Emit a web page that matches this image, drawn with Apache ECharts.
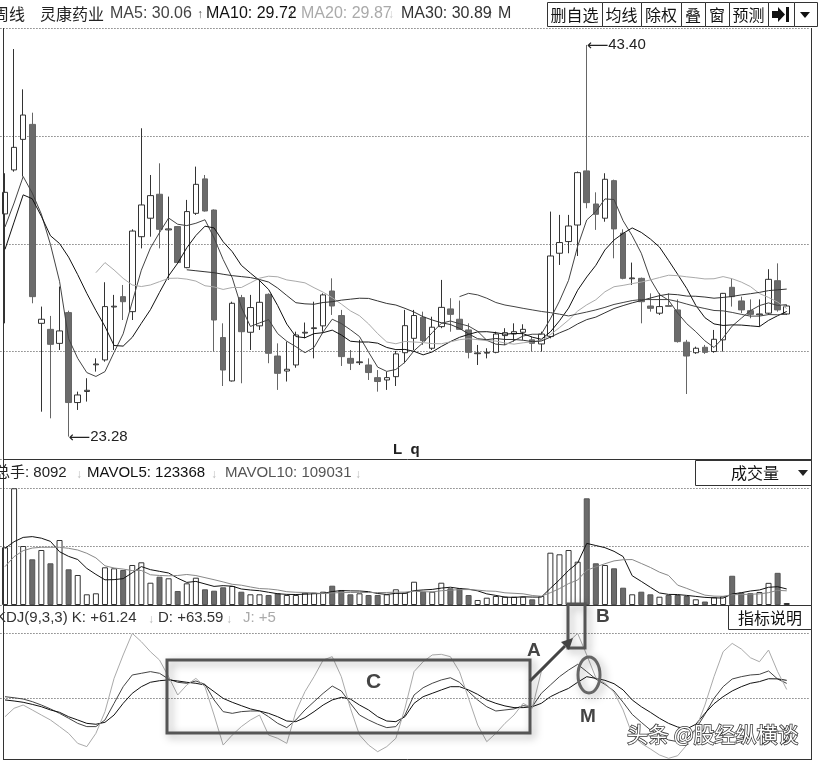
<!DOCTYPE html>
<html><head><meta charset="utf-8">
<script src="https://cdn.jsdelivr.net/npm/echarts@6/dist/echarts.min.js"></script>
<style>html,body{margin:0;padding:0;background:#fff}#c{width:818px;height:764px}</style>
</head><body><div id="c"></div>
<script>
// ---- weekly candles (灵康药业 周线) ----
const weeks = Array.from({length: 87}, (_, i) => 'W' + (i + 1));
const open = [34.72,36.98,38.55,39.32,29.10,28.79,28.07,29.65,25.03,25.60,
26.97,27.22,29.94,30.47,29.70,33.55,34.50,35.73,33.90,34.07,
31.96,34.75,36.52,34.92,28.37,26.14,30.42,28.64,28.97,30.59,
27.42,26.65,26.96,28.60,28.83,28.97,30.76,29.50,27.30,27.08,
26.96,26.31,26.19,26.36,27.59,28.33,29.41,27.82,28.93,29.84,
29.31,28.76,27.54,27.57,27.61,28.47,28.55,28.64,28.25,28.04,
28.42,32.70,33.30,34.15,36.93,35.23,34.50,36.43,33.73,31.39,
31.41,29.99,29.62,30.01,29.79,28.13,27.59,27.87,27.65,28.25,
30.95,30.25,29.75,29.54,29.62,31.29,29.58];
const close = [35.83,38.14,39.80,30.47,29.31,28.02,28.71,25.03,25.42,25.66,
27.01,29.96,29.98,30.21,33.84,35.18,35.66,33.93,33.95,32.22,
34.84,36.24,34.87,29.27,26.70,30.13,28.67,29.91,30.18,27.56,
26.53,26.74,28.50,28.64,28.87,30.56,29.99,27.39,27.05,27.12,
26.57,26.11,26.31,27.53,28.98,29.50,28.21,28.90,29.92,29.56,
28.79,27.61,27.58,27.61,28.55,28.62,28.67,28.79,28.07,28.55,
32.56,33.25,34.10,36.84,35.30,34.70,36.50,33.95,31.41,31.43,
30.21,29.87,29.96,29.97,28.16,27.42,27.82,27.61,28.28,30.64,
30.47,29.79,29.56,29.58,31.36,29.79,29.99];
const low = [29.10,36.89,36.64,30.13,24.56,24.22,27.73,23.28,24.65,25.08,
26.62,27.13,27.73,29.27,29.27,32.95,33.55,32.95,31.33,32.18,
31.93,34.67,34.84,27.65,25.88,26.11,26.02,27.73,28.76,27.05,
25.68,26.11,26.82,28.33,27.30,28.67,29.53,26.91,26.70,26.96,
26.19,25.59,25.68,25.88,27.05,27.73,27.99,27.73,28.85,28.67,
28.76,27.30,26.96,27.30,27.56,27.99,28.16,28.25,27.65,27.65,
28.33,32.10,32.70,32.56,35.01,33.90,34.32,32.44,31.36,31.07,
29.10,29.70,29.53,29.96,28.11,25.47,27.53,27.53,27.59,27.65,
29.96,29.62,29.36,28.93,29.53,29.70,29.53];
const high = [36.81,43.19,41.12,39.92,29.96,29.48,30.99,29.75,25.59,26.28,
27.30,31.21,30.56,31.07,33.93,39.12,36.72,37.32,35.61,34.10,
35.44,37.15,36.72,34.95,29.10,30.21,30.56,30.56,31.33,30.64,
28.07,28.16,28.67,29.14,30.21,30.64,31.41,29.79,27.73,28.25,
27.30,26.70,26.62,27.68,29.79,29.79,29.70,29.44,31.33,30.39,
30.27,29.10,27.99,27.82,28.67,28.85,29.10,29.05,28.42,28.67,
34.84,34.67,34.67,36.90,43.40,35.83,36.81,36.48,33.93,32.22,
31.45,30.64,30.64,30.64,30.33,28.25,27.90,27.99,28.76,30.66,
31.41,30.47,30.33,30.33,31.88,32.18,30.04];
const volume = [444000,898000,453800,351500,423000,320800,500000,274600,230800,82300,
90000,290000,282300,269200,307700,328400,171500,217700,205400,107700,
166900,210000,120800,110000,136200,146200,102300,82300,82300,76900,
90000,76900,76900,94600,94600,102300,148500,115400,82300,90000,
76900,76900,82300,120800,94600,179200,102300,102300,171500,128500,
128500,76900,38500,56200,69200,63800,63800,63800,43800,69200,
402300,390000,423000,333100,820700,320800,307700,282300,133100,82300,
102300,82300,63800,76900,76900,69200,43800,26800,59300,67400,
225000,94970,91200,99700,170400,247448,8092];
// KDJ(9,3,3)
const kLine = [51.0,50.2,49.2,47.2,44.6,41.6,38.2,34.4,30.5,28.0,
28.0,33.1,45.9,58.7,67.7,69.0,70.3,69.0,64.6,62.1,
61.3,63.1,60.5,48.5,39.5,38.2,39.5,40.0,40.0,35.6,
30.5,27.2,33.1,40.8,47.2,53.6,59.2,55.4,45.9,36.9,
33.1,29.8,27.2,28.0,36.9,52.3,57.9,61.3,63.9,65.6,
62.1,54.9,48.5,43.3,40.0,40.8,41.6,44.1,43.3,53.6,
60.0,66.4,71.5,75.9,70.3,64.6,60.5,55.4,46.7,37.4,
31.3,25.4,21.5,17.7,16.4,19.0,26.2,37.4,49.7,58.7,
64.6,66.4,67.7,68.2,70.8,64.6,61.24];
const dLine = [48.5,47.7,46.7,45.1,43.3,40.8,39.0,35.6,33.1,30.5,
29.8,31.3,36.9,45.9,53.6,58.7,62.1,63.3,63.9,63.1,
62.1,61.3,60.0,54.9,49.7,46.7,44.1,41.6,40.0,38.2,
35.6,32.3,31.8,34.9,39.5,44.6,48.5,50.5,49.2,44.6,
40.8,35.6,32.3,31.8,35.6,45.9,51.0,53.6,56.2,58.7,
58.7,56.2,52.8,48.5,45.9,43.9,42.6,42.6,43.3,45.9,
51.0,54.4,57.4,62.1,66.4,65.1,63.6,61.0,56.2,48.5,
43.3,39.0,34.4,30.5,27.7,26.2,29.8,38.2,45.6,51.0,
55.4,58.7,61.3,62.6,64.8,64.7,63.59];
const jLine = [35.6,42.1,44.6,40.8,36.9,33.1,28.0,22.8,15.1,12.6,
22.8,39.5,65.1,83.1,99.7,93.3,85.6,79.2,66.4,52.3,
60.0,65.1,58.7,36.9,13.8,21.5,28.0,33.1,36.9,21.5,
19.0,15.1,39.5,54.9,66.4,79.2,81.8,66.4,42.1,21.5,
13.8,8.7,12.6,19.0,42.1,70.3,77.9,83.1,83.6,81.8,
70.3,49.7,29.2,16.4,22.8,30.5,36.9,45.9,42.1,70.3,
77.9,85.6,93.3,99.7,83.1,65.6,61.3,54.4,40.8,22.0,
15.1,10.8,6.2,3.6,5.6,13.8,26.2,44.6,66.4,85.6,
92.0,87.7,81.0,77.9,86.9,70.3,56.54];
const ma5Head = [34.05,35.28,36.64,35.79];
const ma10Head = [32.9,34.3,35.7,35.5,34.6,33.6,33.2,32.5,31.6];
const ma20Head = Array(10).fill(null).concat([31.70,32.22,31.84,31.41,31.07,30.99,31.07,31.24,31.41]);
const ma30Head = Array(20).fill(null).concat([31.85,31.80,31.75,31.70,31.62,31.55,31.50,31.45,31.35]);
const ma60Head = Array(50).fill(null).concat([30.47,30.64,30.56,30.39,30.17,30.04,29.96,29.87,29.79]);
const mavol5Head = [436000,487000,520000,526000];
const mavol10Head = [295000,372000,418000,438000,444000,444000,444000,436000,423000];
const priceTicks = {min: 22.12, max: 44.24, step: 5.53};
const volTicks = {min: 0, max: 900000, step: 450000};
const kdjTicks = {min: 0, max: 120, step: 50};

function movingAvg(src, n, head, digits) {
  return src.map((_, i) => {
    if (i < n - 1) { const h = head[i]; return h == null ? '-' : h; }
    let s = 0; for (let k = i - n + 1; k <= i; k++) s += src[k];
    return +(s / n).toFixed(digits);
  });
}
const axisSlots = weeks.concat([' ', '  ']);
const candleData = open.map((o, i) => [o, close[i], low[i], high[i]]);
const volData = volume.map((v, i) => ({
  value: v,
  itemStyle: close[i] >= open[i] ? {color: '#fff', borderColor: '#333', borderWidth: 1}
                                  : {color: '#6b6b6b', borderColor: '#555', borderWidth: 1}
}));

const chart = echarts.init(document.getElementById('c'));
const FONT = '"Liberation Sans", Arial, "Noto Sans CJK SC", sans-serif';
const CJK = '"Noto Sans CJK SC", "Liberation Sans", sans-serif';
const hidden = {axisLine: {show: false}, axisTick: {show: false}, axisLabel: {show: false}};
const dotted = {color: '#444', type: [1, 2], width: 1};
const lineS = (name, data, color, xi) => ({
  name, type: 'line', data, xAxisIndex: xi, yAxisIndex: xi, showSymbol: false, symbol: 'none',
  lineStyle: {color, width: 1}, itemStyle: {color}, silent: true, z: 3
});

function T(text, x, y, o) {
  o = o || {};
  return {type: 'text', z: 100, silent: true, style: Object.assign({
    text, x, y, font: (o.size || 15) + 'px ' + (o.family || FONT), fill: o.color || '#222',
    textVerticalAlign: 'middle', verticalAlign: 'middle', textAlign: o.align || 'left', align: o.align || 'left'
  }, o.extra || {})};
}
function R(x, y, w, h, stroke, lw, extra) {
  return {type: 'rect', z: 99, silent: true, shape: {x, y, width: w, height: h},
    style: Object.assign({fill: '#fff', stroke, lineWidth: lw}, extra || {})};
}
function L(x1, y1, x2, y2, color, lw) {
  return {type: 'line', z: 98, silent: true, shape: {x1, y1, x2, y2}, style: {stroke: color, lineWidth: lw || 1}};
}

const graphics = [];
// header
graphics.push(T('周线', -7, 14, {size: 16, family: CJK}));
graphics.push(T('灵康药业', 40, 14, {size: 16, family: CJK}));
graphics.push(T('MA5: 30.06', 110, 14, {size: 16, color: '#444'}));
graphics.push(T('↑', 197, 15, {size: 12, color: '#555'}));
graphics.push(T('MA10: 29.72', 206, 14, {size: 16, color: '#111'}));
graphics.push(T('↑', 288, 15, {size: 12, color: '#333'}));
graphics.push(T('MA20: 29.87', 301, 14, {size: 16, color: '#aaa'}));
graphics.push(T('↓', 388, 15, {size: 12, color: '#ccc'}));
graphics.push(T('MA30: 30.89', 401, 14, {size: 16, color: '#333'}));
graphics.push(T('↑', 487, 15, {size: 12, color: '#333'}));
graphics.push(T('M', 498, 14, {size: 16, color: '#333'}));
const buttons = [['删自选', 547, 602], ['均线', 602, 641], ['除权', 641, 681], ['叠', 681, 705],
  ['窗', 705, 729], ['预测', 729, 768], ['', 768, 794], ['', 794, 817]];
buttons.forEach(b => {
  graphics.push(R(b[1] + 0.5, 2.5, b[2] - b[1], 24, '#333', 1));
  if (b[0]) graphics.push(T(b[0], (b[1] + b[2]) / 2, 15, {size: 16, family: CJK, align: 'center', color: '#111'}));
});
graphics.push({type: 'polygon', z: 101, silent: true, shape: {points: [[772, 11], [778, 11], [778, 7], [785, 14.5], [778, 22], [778, 18], [772, 18]]}, style: {fill: '#111'}});
graphics.push({type: 'rect', z: 101, silent: true, shape: {x: 786, y: 7, width: 3, height: 15}, style: {fill: '#111'}});
graphics.push({type: 'polygon', z: 101, silent: true, shape: {points: [[800, 12], [810, 12], [805, 18]]}, style: {fill: '#111'}});

// frame lines
graphics.push(L(3.5, 28, 3.5, 760, '#333', 1));
graphics.push(L(811.5, 28, 811.5, 760, '#333', 1));
graphics.push(L(3, 459.5, 812, 459.5, '#333', 1));
graphics.push(L(3, 605.5, 812, 605.5, '#333', 1));
graphics.push({type: 'rect', z: 97, silent: true, shape: {x: 0, y: 760, width: 818, height: 4}, style: {fill: '#fff'}});
graphics.push(L(3, 759.5, 812, 759.5, '#333', 1));
graphics.push(T('L  q', 393, 450, {size: 15, extra: {font: 'bold 15px ' + FONT}}));

// volume header
graphics.push(T('总手: 8092', -5, 473, {size: 15}));
graphics.push(T('↓', 76, 475, {size: 12, color: '#bbb'}));
graphics.push(T('MAVOL5: 123368', 87, 473, {size: 15, color: '#111'}));
graphics.push(T('↓', 211, 475, {size: 12, color: '#bbb'}));
graphics.push(T('MAVOL10: 109031', 225, 473, {size: 15, color: '#555'}));
graphics.push(T('↓', 355, 475, {size: 12, color: '#bbb'}));
graphics.push(R(695.5, 460.5, 116, 25, '#333', 1));
graphics.push(T('成交量', 731, 473, {size: 16, family: CJK, color: '#111'}));
graphics.push({type: 'polygon', z: 101, silent: true, shape: {points: [[798, 470], [808, 470], [803, 476]]}, style: {fill: '#222'}});

// KDJ header
graphics.push(T('KDJ(9,3,3) K: +61.24', -4, 618, {size: 15, color: '#333'}));
graphics.push(T('↓', 148, 620, {size: 12, color: '#bbb'}));
graphics.push(T('D: +63.59', 158, 618, {size: 15, color: '#333'}));
graphics.push(T('↓', 226, 620, {size: 12, color: '#bbb'}));
graphics.push(T('J: +5', 243, 618, {size: 15, color: '#aaa'}));
graphics.push(R(728.5, 605.5, 83, 24, '#333', 1));
graphics.push(T('指标说明', 770, 618, {size: 16, family: CJK, align: 'center', color: '#111'}));

// annotations
const sh = {shadowBlur: 8, shadowColor: 'rgba(0,0,0,0.35)', shadowOffsetX: 3, shadowOffsetY: 3};
graphics.push(R(167, 660, 363, 73, '#555', 3, Object.assign({fill: 'none'}, sh)));
graphics.push(T('C', 366, 682, {extra: {font: 'bold 21px ' + FONT, fill: '#444'}}));
graphics.push(R(568, 604, 17, 44, '#555', 3, Object.assign({fill: 'none'}, sh)));
graphics.push(T('B', 596, 617, {extra: {font: 'bold 19px ' + FONT, fill: '#444'}}));
graphics.push({type: 'line', z: 101, silent: true, shape: {x1: 530, y1: 681, x2: 565, y2: 646}, style: {stroke: '#444', lineWidth: 3}});
graphics.push({type: 'polygon', z: 101, silent: true, shape: {points: [[573, 638], [561, 642], [569, 650]]}, style: {fill: '#444'}});
graphics.push(T('A', 527, 651, {extra: {font: 'bold 19px ' + FONT, fill: '#444'}}));
graphics.push({type: 'ellipse', z: 101, silent: true, shape: {cx: 589, cy: 675, rx: 11, ry: 18}, style: Object.assign({fill: 'none', stroke: '#666', lineWidth: 3}, sh)});
graphics.push(T('M', 580, 717, {extra: {font: 'bold 19px ' + FONT, fill: '#444'}}));
graphics.push(T('头条 @股经纵横谈', 627, 734, {extra: {font: '21px ' + CJK, fill: '#fff', stroke: '#333', lineWidth: 1.5, shadowBlur: 3, shadowColor: 'rgba(0,0,0,0.5)'}}));

const option = {
  animation: false,
  backgroundColor: '#fff',
  grid: [
    {left: 0.45, width: 809, top: 28.6, height: 430.6},
    {left: 0.45, width: 809, top: 488, height: 117},
    {left: 0.45, width: 809, top: 607, height: 156}
  ],
  xAxis: [0, 1, 2].map(i => Object.assign({type: 'category', gridIndex: i, data: axisSlots, boundaryGap: true, splitLine: {show: false}}, hidden)),
  yAxis: [
    Object.assign({gridIndex: 0, min: priceTicks.min, max: priceTicks.max, interval: priceTicks.step, splitLine: {show: true, lineStyle: dotted}}, hidden),
    Object.assign({gridIndex: 1, min: volTicks.min, max: volTicks.max, interval: volTicks.step, splitLine: {show: true, lineStyle: dotted}}, hidden),
    Object.assign({gridIndex: 2, min: kdjTicks.min, max: kdjTicks.max, interval: kdjTicks.step, splitLine: {show: true, showMinLine: false, showMaxLine: false, lineStyle: dotted}}, hidden)
  ],
  series: [
    {
      type: 'candlestick', name: '灵康药业', data: candleData, xAxisIndex: 0, yAxisIndex: 0, barWidth: 6, z: 2,
      itemStyle: {color: '#fff', color0: '#6b6b6b', borderColor: '#333', borderColor0: '#666', borderWidth: 1},
      markPoint: {
        symbol: 'circle', symbolSize: 0, silent: true, animation: false,
        label: {show: true, position: 'right', distance: 0,
          formatter: p => '{a|⟵}{b|' + Number(p.value).toFixed(2) + '}',
          rich: {
            a: {fontFamily: '"DejaVu Sans", sans-serif', fontSize: 15, color: '#222', padding: [2, 0, 0, 0]},
            b: {fontFamily: FONT, fontSize: 15, color: '#222'}
          }},
        data: [{type: 'max', valueDim: 'highest'}, {type: 'min', valueDim: 'lowest'}]
      }
    },
    lineS('MA5', movingAvg(close, 5, ma5Head, 2), '#444', 0),
    lineS('MA10', movingAvg(close, 10, ma10Head, 2), '#111', 0),
    lineS('MA20', movingAvg(close, 20, ma20Head, 2), '#aaa', 0),
    lineS('MA30', movingAvg(close, 30, ma30Head, 2), '#333', 0),
    lineS('MA60', movingAvg(close, 60, ma60Head, 2), '#444', 0),
    {type: 'bar', name: 'VOL', data: volData, xAxisIndex: 1, yAxisIndex: 1, barWidth: 6, barMinHeight: 2, silent: true, z: 2},
    lineS('MAVOL5', movingAvg(volume, 5, mavol5Head, 0), '#111', 1),
    lineS('MAVOL10', movingAvg(volume, 10, mavol10Head, 0), '#888', 1),
    lineS('K', kLine, '#444', 2),
    lineS('D', dLine, '#111', 2),
    lineS('J', jLine, '#aaa', 2)
  ],
  graphic: graphics
};
chart.setOption(option);
</script></body></html>
